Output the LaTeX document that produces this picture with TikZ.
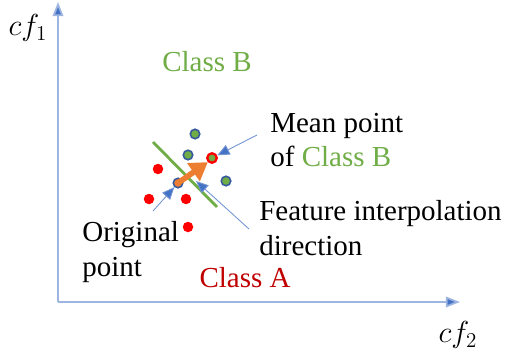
\documentclass[tikz,border=0pt]{standalone}
\usepackage{fontspec}
\setmainfont{Liberation Serif}
\usetikzlibrary{arrows.meta}

\definecolor{clsgreen}{HTML}{70AD47}
\definecolor{clsred}{HTML}{FF0000}
\definecolor{clsdarkred}{HTML}{C00000}
\definecolor{axblue}{HTML}{4472C4}
\definecolor{axlight}{HTML}{9DB5E0}
\definecolor{interporange}{HTML}{ED7D31}

\tikzset{
  lbl/.style={font=\fontsize{16.5}{19.5}\selectfont, inner sep=0pt},
  dotA/.style={circle, inner sep=0pt, minimum size=0.21cm, fill=clsred},
  dotB/.style={circle, inner sep=0pt, minimum size=0.19cm, fill=clsgreen, draw=axblue!80!black, line width=0.9pt},
  pointer/.style={draw=axblue!75, line width=0.5pt, -{Triangle[length=7pt,width=6pt,fill=axblue]}},
}

\begin{document}
\begin{tikzpicture}[x=0.02cm,y=-0.02cm]
\useasboundingbox (0,0) rectangle (507,358);

% axes
\coordinate (o) at (58,302);
\coordinate (ytip) at (58,2);
\coordinate (xtip) at (460,302);
\draw[axlight, line width=1pt, -{Triangle[length=8pt,width=6pt,fill=axblue]}] (o) -- (ytip);
\draw[axlight, line width=1pt, -{Triangle[length=8pt,width=6pt,fill=axblue]}] (o) -- (xtip);
\node(cfy) at (28,28) {\fontsize{17}{20}\selectfont $cf_1$};
\node(cfx) at (458,335) {\fontsize{17}{20}\selectfont $cf_2$};

% class B points
\node[dotB] (b1) at (195,134) {};
\node[dotB] (b2) at (188,155) {};
\node[dotB] (b3) at (226,181) {};
\node[dotB, draw=clsred, line width=1.3pt] (mean) at (212,158) {};

% class A points
\node[dotA] (a1) at (158,169) {};
\node[dotA] (a2) at (149,199) {};
\node[dotA] (a3) at (186,199) {};
\node[dotA] (a4) at (188,227) {};
\node[dotB, fill=interporange] (orig) at (178,183) {};

% boundary
\draw[clsgreen, line width=1.6pt] (153,142) -- (217,207);

% interpolation direction
\draw[interporange, line width=3.2pt, -{Triangle[length=10pt,width=12pt]}]
(orig.center) -- (mean.south west);

% labels
\node[lbl, text=clsgreen] (classB) at (207,62) {Class B};
\node[lbl, text=clsdarkred] (classA) at (245,278) {Class A};
\node[lbl, anchor=west, align=left] (meanlbl) at (270,140) {Mean point\\of \textcolor{clsgreen}{Class B}};
\node[lbl, anchor=west, align=left] (featlbl) at (259,228) {Feature interpolation\\direction};
\node[lbl, anchor=west, align=left] (origlbl) at (82,252) {Original\\point};

% pointers
\coordinate (meantail) at (257,135);
\coordinate (feattail) at (249,229);
\coordinate (origtail) at (153,211);
\coordinate (dirmid) at (196,181);
\draw[pointer] (meantail) -- (mean);
\draw[pointer] (feattail) -- (dirmid);
\draw[pointer] (origtail) -- (orig);

\end{tikzpicture}
\end{document}
